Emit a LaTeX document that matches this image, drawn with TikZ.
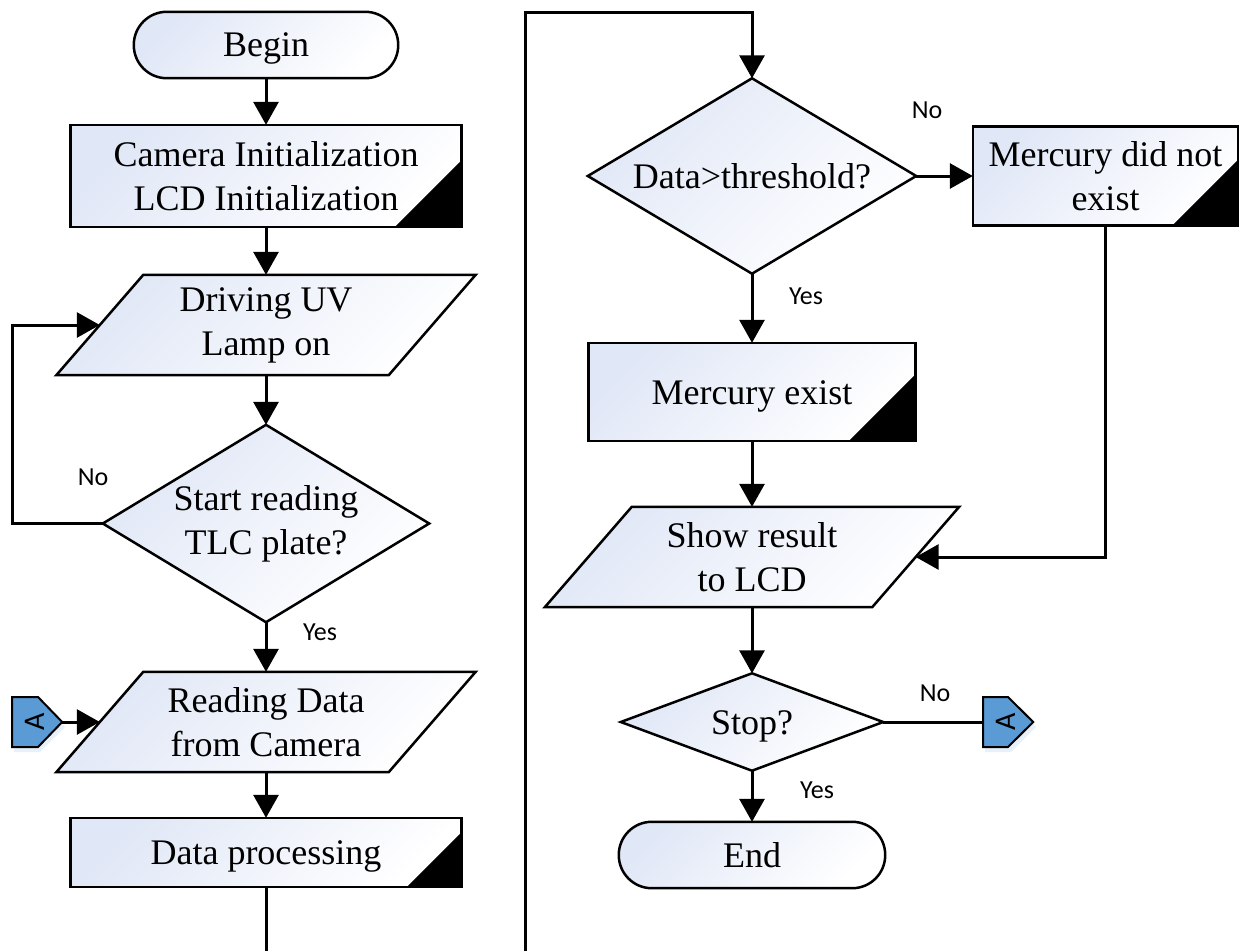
\documentclass[tikz,border=0pt]{standalone}
\usepackage{fontspec}
\usepackage{graphicx}
\setmainfont{Liberation Serif}
\newfontfamily\labfont{Carlito}
\usetikzlibrary{arrows.meta,calc,backgrounds}
\definecolor{shadeA}{RGB}{224,231,246}
\definecolor{conblue}{RGB}{91,155,213}
\begin{document}
\begin{tikzpicture}[x=1pt,y=-1pt,
  every node/.style={font=\fontsize{36}{44}\selectfont, inner sep=0pt},
  box/.style 2 args={rectangle, minimum width=#1, minimum height=#2, align=center},
  oneline/.style={text height=31pt, text depth=7pt},
  grad/.style={top color=shadeA, bottom color=white, shading angle=45, draw=black, line width=2.5pt, line join=miter},
  lab/.style={font=\labfont\fontsize{26}{30}\selectfont},
  arr/.style={line width=3pt, -{Triangle[length=23pt,width=25pt]}},
  ln/.style={line width=3pt},
  conn/.style={fill=conblue, draw=black, line width=2pt, line join=miter}
]
\useasboundingbox (0,0) rectangle (1248,951);

% ---- nodes (text / anchors) ----
\node[box={264}{66}, text height=30pt, text depth=8pt] (begin) at (266,45) {Begin};
\node[box={391}{102}] (cam) at (266,176) {Camera Initialization\\LCD Initialization};
\node[box={332}{100}] (drv) at (266,325) {Driving UV\\Lamp on};
\node[box={326}{197}] (start) at (266,523.5) {Start reading\\TLC plate?};
\node[box={332}{100}] (read) at (266,722) {Reading Data\\from Camera};
\node[box={391}{69}, oneline] (dp) at (266,852.5) {Data processing};
\node[box={50}{50}, font=\labfont\fontsize{30}{30}\selectfont] (A1) at (37,722) {\hspace*{-4pt}\rotatebox{90}{A}};

\node[box={328}{195}, oneline] (thr) at (752,176) {Data>threshold?};
\node[box={265}{99}] (mnot) at (1105.5,176) {Mercury did not\\exist};
\node[box={327}{98}, oneline] (mex) at (752,392) {Mercury exist};
\node[box={327}{100}] (show) at (752,557) {Show result\\to LCD};
\node[box={262}{97}, oneline] (stop) at (752,722) {Stop?};
\node[box={266}{66}, text height=31pt, text depth=7pt] (end) at (752,855) {End};
\node[box={50}{50}, font=\labfont\fontsize{30}{30}\selectfont] (A2) at (1008,722) {\hspace*{-4pt}\rotatebox{90}{A}};

% ---- labels ----
\node[lab] (n1) at (93,477) {No};
\node[lab] (y1) at (320,632) {Yes};
\node[lab] (n2) at (927,110) {No};
\node[lab] (y2) at (806,296) {Yes};
\node[lab] (n3) at (935,693) {No};
\node[lab] (y3) at (817,790) {Yes};

% ---- shapes on background ----
\begin{pgfonlayer}{background}
  \path[grad, rounded corners=33pt] (begin.south west) rectangle (begin.north east);
  \path[grad, rounded corners=33pt] (end.south west) rectangle (end.north east);
  \foreach \n/\t in {cam/67, dp/55, mnot/66, mex/67} {
    \path[grad] (\n.south west) rectangle (\n.north east);
    \fill[black] (\n.south east) -- ++(-\t,0) -- ++(\t,-\t) -- cycle;
  }
  \foreach \n/\s in {drv/43.5, read/43.5, show/43.5} {
    \path[grad] ($(\n.north west)+(\s,0)$) -- ($(\n.north east)+(\s,0)$) -- ($(\n.south east)+(-\s,0)$) -- ($(\n.south west)+(-\s,0)$) -- cycle;
  }
  \foreach \n in {start, thr, stop} {
    \path[grad] (\n.north) -- (\n.east) -- (\n.south) -- (\n.west) -- cycle;
  }
  % off-page connectors
  \fill[conblue!40, opacity=0.35] (14,701) -- (40,701) -- (65,727) -- (40,752) -- (14,752) -- cycle;
  \path[conn] (12,697) -- (38,697) -- (A1.east) -- (38,747) -- (12,747) -- cycle;
  \fill[conblue!40, opacity=0.35] (985,701) -- (1011,701) -- (1036,727) -- (1011,752) -- (985,752) -- cycle;
  \path[conn] (983,697) -- (1008,697) -- (A2.east) -- (1008,747) -- (983,747) -- cycle;
\end{pgfonlayer}

% ---- connectors ----
\coordinate (loopc) at (12,325);
\coordinate (bl) at (266,951);
\coordinate (br) at (525,951);
\coordinate (topc) at (752,12);
\coordinate (bendr) at (1105.5,557);

\draw[arr] (begin.south) -- (cam.north);
\draw[arr] (cam.south) -- (drv.north);
\draw[arr] (drv.south) -- (start.north);
\draw[arr, line join=miter] (start.west) -| (loopc) -- (drv.west);
\draw[arr] (start.south) -- (read.north);
\draw[arr] (A1.east) -- (read.west);
\draw[arr] (read.south) -- (dp.north);
\draw[ln] (dp.south) -- (bl);

\draw[arr, line join=miter] (br) |- (topc) -- (thr.north);
\draw[arr] (thr.east) -- (mnot.west);
\draw[arr] (thr.south) -- (mex.north);
\draw[arr, line join=miter] (mnot.south) -- (bendr) -- (show.east);
\draw[arr] (mex.south) -- (show.north);
\draw[arr] (show.south) -- (stop.north);
\draw[ln] (stop.east) -- (A2.west);
\draw[arr] (stop.south) -- (end.north);
\end{tikzpicture}
\end{document}
